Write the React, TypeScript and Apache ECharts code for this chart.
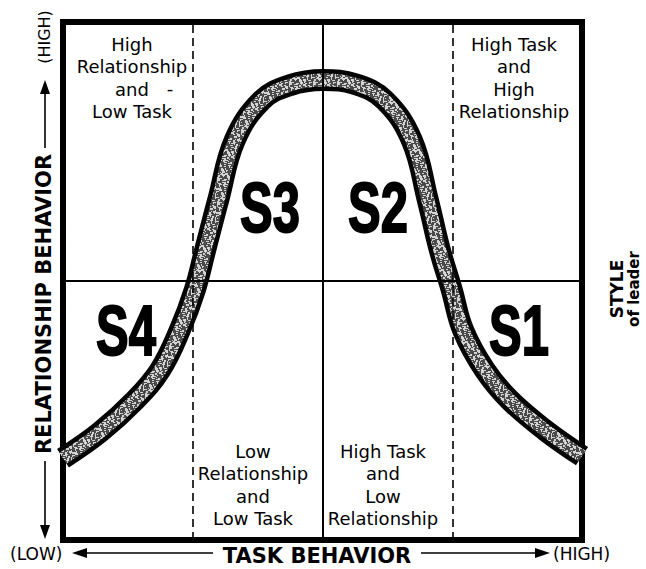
import React, { useEffect, useRef } from "react";
import * as echarts from "echarts";

// Leadership style curve: task behavior (x, 0-100) vs relationship behavior (y, 0-100)
const curveTask = [0, 7.1, 13.9, 18.7, 22.5, 25.4, 27.4, 29.9, 33.1, 38.3, 43.7, 50.1, 56.3, 62.0, 67.2, 70.3, 72.6, 74.9, 77.1, 81.3, 86.1, 92.9, 100];
const curveRelationship = [15.8, 20.8, 27.0, 32.8, 40.5, 48.3, 56.0, 65.6, 77.2, 84.9, 87.8, 88.8, 88.0, 84.9, 77.2, 65.6, 56.0, 48.3, 40.5, 32.8, 27.0, 21.2, 16.2];

const dashedDividers = [25, 75];
const midTask = 50;
const midRelationship = 50;

const quadrantTexts = [
  "High\nRelationship\nand\nLow Task",
  "High Task\nand\nHigh\nRelationship",
  "Low\nRelationship\nand\nLow Task",
  "High Task\nand\nLow\nRelationship",
];
const styleLabels = ["S3", "S2", "S4", "S1"];

function makeTexture() {
  const c = document.createElement("canvas");
  c.width = 24;
  c.height = 24;
  const ctx = c.getContext("2d");
  if (!ctx) return "#8f8f8f";
  ctx.fillStyle = "#4a4a4a";
  ctx.fillRect(0, 0, 24, 24);
  ctx.fillStyle = "#d4d4d4";
  for (let i = 0; i < 90; i++) {
    const x = (i * 7 + ((i * i) % 5)) % 24;
    const y = (i * 11 + ((i * 3) % 7)) % 24;
    ctx.fillRect(x, y, (i % 3) + 1, (i % 2) + 1);
  }
  return { image: c, repeat: "repeat" };
}

export default function App() {
  const ref = useRef<HTMLDivElement>(null);
  useEffect(() => {
    if (!ref.current) return;
    const chart = echarts.init(ref.current, null, { renderer: "svg" });
    const data = curveTask.map((x, i) => [x, curveRelationship[i]]);
    const qFont = { fontFamily: "DejaVu Sans", fontSize: 18, lineHeight: 22.5, fill: "#000", textAlign: "center", textVerticalAlign: "top" };
    const sFont = { fontFamily: "Liberation Sans", fontWeight: "bold", fontSize: 70, fill: "#000", stroke: "#000", lineWidth: 2, textAlign: "center", textVerticalAlign: "middle" };
    const axFont = { fontFamily: "DejaVu Sans", fontWeight: "bold", fontSize: 21, fill: "#000", textAlign: "center", textVerticalAlign: "middle" };
    const pFont = { fontFamily: "DejaVu Sans", fontSize: 17, fill: "#000", textVerticalAlign: "middle" };
    const ln = (x1: number, y1: number, x2: number, y2: number) => ({ type: "line", shape: { x1, y1, x2, y2 }, style: { stroke: "#000", lineWidth: 1.6 } });
    const head = (pts: number[][]) => ({ type: "polygon", shape: { points: pts }, style: { fill: "#000" } });
    chart.setOption({
      animation: false,
      backgroundColor: "#fff",
      grid: { left: 63, top: 22, right: 64, bottom: 29, show: true, borderColor: "#000", borderWidth: 6, backgroundColor: "transparent" },
      xAxis: { type: "value", min: 0, max: 100, show: false },
      yAxis: { type: "value", min: 0, max: 100, show: false },
      series: [
        {
          type: "line",
          data: [],
          silent: true,
          z: 1,
          markLine: {
            silent: true,
            symbol: "none",
            label: { show: false },
            data: [
              { xAxis: midTask, lineStyle: { type: "solid", width: 2, color: "#000" } },
              { yAxis: midRelationship, lineStyle: { type: "solid", width: 2, color: "#000" } },
              ...dashedDividers.map((v) => ({ xAxis: v, lineStyle: { type: [8, 5], width: 1.6, color: "#000" } })),
            ],
          },
        },
        {
          type: "line",
          data,
          smooth: 0.4,
          symbol: "none",
          z: 3,
          lineStyle: { color: "#050505", width: 22, cap: "butt" },
        },
        {
          type: "line",
          data,
          smooth: 0.4,
          symbol: "none",
          z: 4,
          lineStyle: { color: makeTexture(), width: 13, cap: "butt" },
        },
      ],
      graphic: [
        { type: "text", x: 132, y: 33, style: { ...qFont, text: quadrantTexts[0] } },
        { type: "text", x: 170, y: 88, style: { ...qFont, text: "-", textVerticalAlign: "middle" } },
        { type: "text", x: 514, y: 33, style: { ...qFont, text: quadrantTexts[1] } },
        { type: "text", x: 253, y: 440, style: { ...qFont, text: quadrantTexts[2] } },
        { type: "text", x: 383, y: 440, style: { ...qFont, text: quadrantTexts[3] } },
        { type: "text", x: 270, y: 208, scaleX: 0.7, style: { ...sFont, text: styleLabels[0] } },
        { type: "text", x: 378, y: 208, scaleX: 0.7, style: { ...sFont, text: styleLabels[1] } },
        { type: "text", x: 126, y: 331, scaleX: 0.7, style: { ...sFont, text: styleLabels[2] } },
        { type: "text", x: 519, y: 331, scaleX: 0.7, style: { ...sFont, text: styleLabels[3] } },
        // bottom axis label
        { type: "text", x: 10, y: 554, style: { ...pFont, text: "(LOW)", textAlign: "left" } },
        head([[72, 553], [87, 548], [87, 558]]),
        ln(86, 553, 213, 553),
        { type: "text", x: 317, y: 556, style: { ...axFont, text: "TASK BEHAVIOR" } },
        ln(421, 553, 537, 553),
        head([[550, 553], [535, 548], [535, 558]]),
        { type: "text", x: 553, y: 554, style: { ...pFont, text: "(HIGH)", textAlign: "left" } },
        // left axis label
        { type: "text", x: 44, y: 37, rotation: Math.PI / 2, style: { ...pFont, fontSize: 16, text: "(HIGH)", textAlign: "center" } },
        head([[45, 80], [40, 94], [50, 94]]),
        ln(45, 93, 45, 148),
        { type: "text", x: 44, y: 304, rotation: Math.PI / 2, style: { ...axFont, text: "RELATIONSHIP BEHAVIOR" } },
        ln(45, 461, 45, 526),
        head([[45, 539], [40, 525], [50, 525]]),
        // right label
        { type: "text", x: 617, y: 289, rotation: Math.PI / 2, style: { fontFamily: "DejaVu Sans", fontWeight: "bold", fontSize: 17, fill: "#000", text: "STYLE", textAlign: "center", textVerticalAlign: "middle" } },
        { type: "text", x: 634, y: 289, rotation: Math.PI / 2, style: { fontFamily: "DejaVu Sans", fontWeight: "bold", fontSize: 15, fill: "#000", text: "of leader", textAlign: "center", textVerticalAlign: "middle" } },
      ],
    });
    return () => chart.dispose();
  }, []);
  return <div ref={ref} style={{ width: 646, height: 569, position: "absolute", left: 0, top: 0 }} />;
}
